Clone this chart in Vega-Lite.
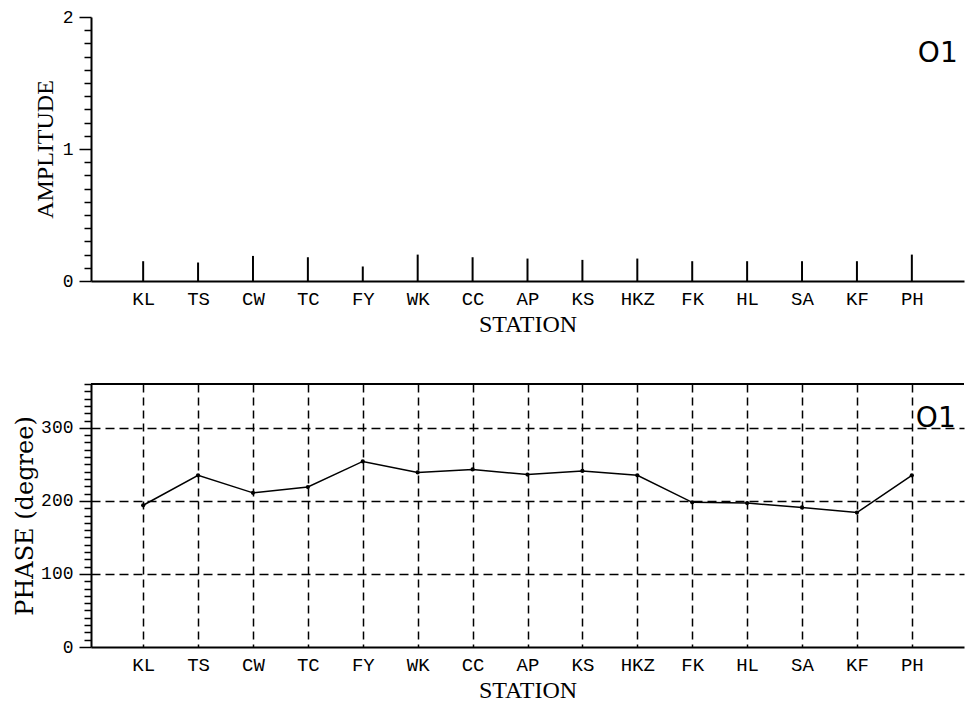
{
  "$schema": "https://vega.github.io/schema/vega-lite/v6.json",
  "padding": {"left": 13, "top": 8, "right": 0, "bottom": 4},
  "spacing": 39,
  "datasets": {
    "tide": [
      {"station": "KL", "amplitude": 0.15, "phase": 194},
      {"station": "TS", "amplitude": 0.14, "phase": 235},
      {"station": "CW", "amplitude": 0.19, "phase": 211},
      {"station": "TC", "amplitude": 0.18, "phase": 219},
      {"station": "FY", "amplitude": 0.11, "phase": 254},
      {"station": "WK", "amplitude": 0.2, "phase": 239},
      {"station": "CC", "amplitude": 0.18, "phase": 243},
      {"station": "AP", "amplitude": 0.17, "phase": 236},
      {"station": "KS", "amplitude": 0.16, "phase": 241},
      {"station": "HKZ", "amplitude": 0.17, "phase": 235},
      {"station": "FK", "amplitude": 0.15, "phase": 198},
      {"station": "HL", "amplitude": 0.15, "phase": 197},
      {"station": "SA", "amplitude": 0.15, "phase": 191},
      {"station": "KF", "amplitude": 0.15, "phase": 184},
      {"station": "PH", "amplitude": 0.2, "phase": 235}
    ]
  },
  "vconcat": [
    {
      "width": 873,
      "height": 264,
      "layer": [
        {
          "data": {"name": "tide"},
          "mark": {"type": "rule", "color": "black", "strokeWidth": 2},
          "encoding": {
            "x": {
              "field": "station", "type": "nominal",
              "scale": {"type": "point", "domain": ["KL","TS","CW","TC","FY","WK","CC","AP","KS","HKZ","FK","HL","SA","KF","PH"], "padding": 0.95},
              "axis": {"title": "STATION", "titleFontSize": 24, "ticks": false, "labelAngle": 0, "labelFontSize": 19, "labelPadding": 8, "titlePadding": 4, "grid": false}
            },
            "y": {
              "field": "amplitude", "type": "quantitative",
              "scale": {"domain": [0, 2], "nice": false},
              "axis": {
                "title": "AMPLITUDE",
                "titleFontSize": 24,
                "tickCount": 20,
                "labelOverlap": false,
                "labelExpr": "abs(datum.value - round(datum.value)) < 0.001 ? format(datum.value, 'd') : ''",
                "tickSize": {"condition": {"test": "abs(datum.value - round(datum.value)) < 0.001", "value": 12}, "value": 7},
                "labelPadding": 6,
                "titlePadding": 5,
                "grid": false
              }
            },
            "y2": {"datum": 0}
          }
        },
        {
          "data": {"values": [{"label": "O1"}]},
          "mark": {"type": "text", "font": "DejaVu Sans", "fontSize": 28, "align": "left", "baseline": "middle", "dx": 6, "color": "black"},
          "encoding": {
            "x": {"datum": "PH"},
            "y": {"datum": 1.72},
            "text": {"field": "label"}
          }
        }
      ]
    },
    {
      "width": 873,
      "height": 263,
      "layer": [
        {
          "data": {"name": "tide"},
          "mark": {"type": "line", "color": "black", "strokeWidth": 1.5},
          "encoding": {
            "x": {
              "field": "station", "type": "nominal",
              "scale": {"type": "point", "domain": ["KL","TS","CW","TC","FY","WK","CC","AP","KS","HKZ","FK","HL","SA","KF","PH"], "padding": 0.95},
              "axis": {"title": "STATION", "titleFontSize": 24, "ticks": false, "labelAngle": 0, "labelFontSize": 19, "labelPadding": 8, "titlePadding": 4, "grid": true, "gridColor": "black", "gridDash": [8, 5], "gridWidth": 1.5, "gridOpacity": 1}
            },
            "y": {
              "field": "phase", "type": "quantitative",
              "scale": {"domain": [0, 360], "nice": false},
              "axis": {
                "title": "PHASE (degree)",
                "titleFont": "DejaVu Serif",
                "titleFontSize": 24,
                "values": [0,10,20,30,40,50,60,70,80,90,100,110,120,130,140,150,160,170,180,190,200,210,220,230,240,250,260,270,280,290,300,310,320,330,340,350,360],
                "tickCount": 100,
                "labelOverlap": false,
                "labelExpr": "datum.value % 100 === 0 ? format(datum.value, 'd') : ''",
                "tickSize": {"condition": {"test": "datum.value % 100 === 0", "value": 12}, "value": 7},
                "labelPadding": 6,
                "titlePadding": 3,
                "grid": true,
                "gridColor": "black",
                "gridDash": [9, 5],
                "gridWidth": 1.5,
                "gridOpacity": {"condition": {"test": "datum.value % 100 === 0 && datum.value > 0", "value": 1}, "value": 0}
              }
            }
          }
        },
        {
          "data": {"name": "tide"},
          "mark": {"type": "point", "filled": true, "color": "black", "size": 18, "opacity": 1},
          "encoding": {
            "x": {"field": "station", "type": "nominal"},
            "y": {"field": "phase", "type": "quantitative"}
          }
        },
        {
          "data": {"values": [{"label": "O1"}]},
          "mark": {"type": "rule", "color": "black", "strokeWidth": 2},
          "encoding": {"y": {"datum": 360}}
        },
        {
          "data": {"values": [{"label": "O1"}]},
          "mark": {"type": "text", "font": "DejaVu Sans", "fontSize": 28, "align": "left", "baseline": "middle", "dx": 4, "color": "black"},
          "encoding": {
            "x": {"datum": "PH"},
            "y": {"datum": 312},
            "text": {"field": "label"}
          }
        }
      ]
    }
  ],
  "config": {
    "view": {"stroke": null},
    "axis": {
      "domainColor": "black",
      "domainWidth": 2,
      "tickColor": "black",
      "tickWidth": 1.5,
      "labelColor": "black",
      "labelFont": "Liberation Mono",
      "labelFontSize": 18,
      "titleColor": "black",
      "titleFont": "Liberation Serif",
      "titleFontSize": 23,
      "titleFontWeight": "normal"
    }
  }
}
